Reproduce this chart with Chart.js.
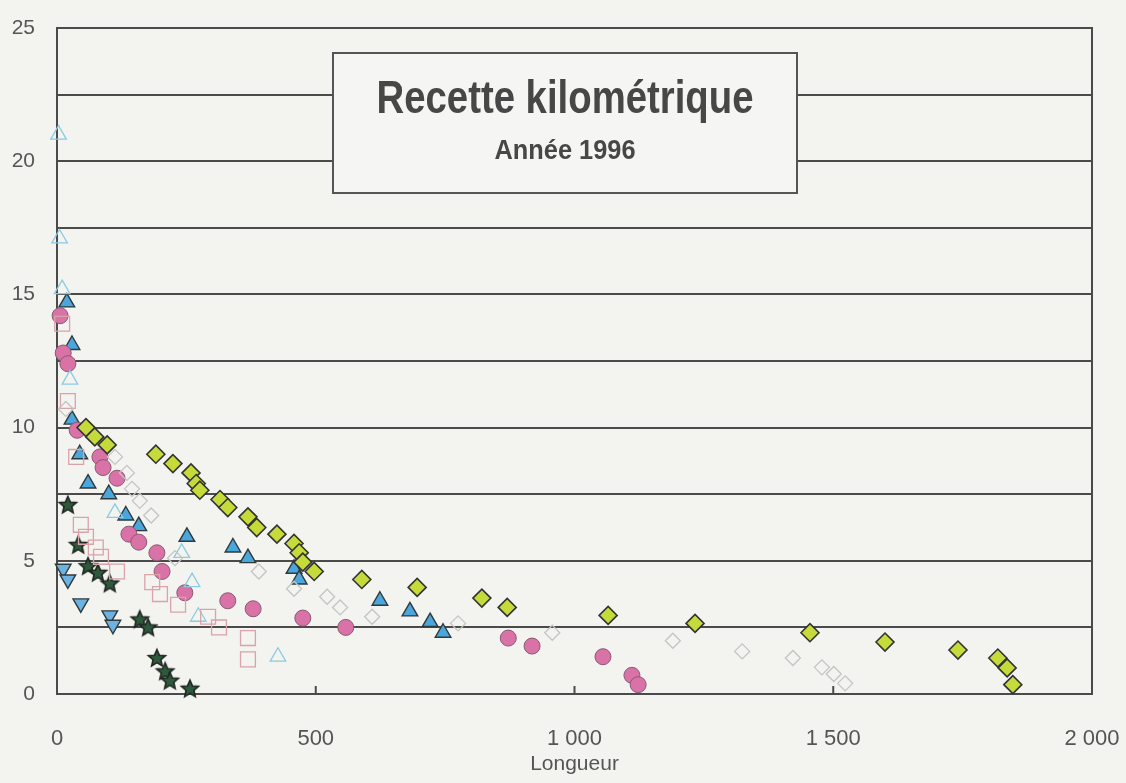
<!DOCTYPE html>
<html><head><meta charset="utf-8">
<script src="https://cdn.jsdelivr.net/npm/chart.js@4/dist/chart.umd.min.js"></script>
<style>html,body{margin:0;padding:0;background:#f3f3f0;overflow:hidden}#wrap{width:1126px;height:783px;position:relative}</style>
</head><body><div id="wrap"><canvas id="c" width="1126" height="783"></canvas></div>
<script>
const titleText = 'Recette kilométrique';
const subtitleText = 'Année 1996';
const xAxisTitle = 'Longueur';
const xMin = 0, xMax = 2000, xStep = 500;
const yMin = 0, yMax = 25, yStep = 2.5, yLabelStep = 5;

const openTriangles = [[3,21.0],[5,17.1],[10,15.2],[25,11.8],[112,6.8],[241,5.3],[261,4.2],[273,2.9],[427,1.4]];
const filledTriangles = [[19,14.7],[29,13.1],[29,10.3],[44,9.0],[60,7.9],[100,7.5],[133,6.7],[158,6.3],[251,5.9],[340,5.5],[369,5.1],[458,4.7],[468,4.3],[624,3.5],[682,3.1],[721,2.7],[746,2.3]];
const pinkCircles = [[6,14.2],[12,12.8],[21,12.4],[39,9.9],[83,8.9],[89,8.5],[116,8.1],[139,6.0],[158,5.7],[193,5.3],[203,4.6],[247,3.8],[330,3.5],[379,3.2],[475,2.85],[558,2.5],[872,2.1],[918,1.8],[1055,1.4],[1111,0.7],[1123,0.35]];
const openSquares = [[10,13.9],[21,11.0],[37,8.9],[46,6.35],[56,5.9],[75,5.5],[85,5.15],[116,4.6],[184,4.2],[199,3.75],[234,3.35],[292,2.9],[313,2.5],[369,2.1],[369,1.3]];
const openDiamonds = [[17,10.7],[112,8.9],[135,8.3],[145,7.7],[160,7.25],[182,6.7],[228,5.1],[390,4.6],[458,3.95],[522,3.65],[547,3.25],[609,2.9],[775,2.65],[957,2.3],[1190,2.0],[1324,1.6],[1422,1.35],[1478,1.0],[1501,0.75],[1523,0.4]];
const greenDiamonds = [[56,10.0],[73,9.65],[97,9.35],[191,9.0],[224,8.65],[259,8.3],[269,7.9],[276,7.65],[315,7.3],[330,7.0],[369,6.65],[386,6.25],[425,6.0],[458,5.65],[468,5.3],[475,4.95],[497,4.6],[589,4.3],[696,4.0],[821,3.6],[870,3.25],[1065,2.95],[1233,2.65],[1455,2.3],[1600,1.95],[1741,1.65],[1818,1.35],[1836,0.98],[1847,0.35]];
const darkStars = [[21,7.1],[41,5.6],[60,4.8],[79,4.55],[102,4.15],[160,2.8],[176,2.5],[193,1.35],[209,0.85],[218,0.5],[257,0.2]];
const downTriangles = [[12,4.7],[21,4.3],[46,3.4],[102,2.95],[108,2.6]];

const toPts = a => a.map(p => ({x: p[0], y: p[1]}));

function makeStar() {
  const c = document.createElement('canvas');
  c.width = 22; c.height = 22;
  const g = c.getContext('2d');
  g.beginPath();
  for (let i = 0; i < 10; i++) {
    const r = i % 2 === 0 ? 9 : 4.1;
    const a = -Math.PI / 2 + i * Math.PI / 5;
    const px = 11 + r * Math.cos(a), py = 11.5 + r * Math.sin(a);
    if (i === 0) g.moveTo(px, py); else g.lineTo(px, py);
  }
  g.closePath();
  g.fillStyle = '#2e5a3c';
  g.fill();
  g.lineWidth = 1.6;
  g.strokeStyle = '#1f2622';
  g.stroke();
  return c;
}
const starImg = makeStar();

const frameColor = '#4a4a4a';
const textColor = '#555555';
const fontFam = '"Liberation Sans", Arial, Helvetica, sans-serif';

const bgPlugin = {
  id: 'bg',
  beforeDraw(chart) {
    const ctx = chart.ctx;
    ctx.save();
    ctx.fillStyle = '#f3f3f0';
    ctx.fillRect(0, 0, chart.width, chart.height);
    ctx.restore();
  },
  beforeDatasetsDraw(chart) {
    const ctx = chart.ctx, a = chart.chartArea, xs = chart.scales.x;
    ctx.save();
    ctx.strokeStyle = frameColor;
    ctx.lineWidth = 2;
    ctx.strokeRect(a.left, a.top, a.right - a.left, a.bottom - a.top);
    xs.ticks.forEach(t => {
      if (t.value <= xMin || t.value >= xMax) return;
      const px = xs.getPixelForValue(t.value);
      ctx.beginPath();
      ctx.moveTo(px, a.bottom);
      ctx.lineTo(px, a.bottom - 8);
      ctx.stroke();
    });
    ctx.restore();
  },
  afterDatasetsDraw(chart) {
    const ctx = chart.ctx;
    const bx = 333, by = 53, bw = 464, bh = 140;
    ctx.save();
    ctx.fillStyle = '#f5f5f3';
    ctx.fillRect(bx, by, bw, bh);
    ctx.strokeStyle = '#555555';
    ctx.lineWidth = 2;
    ctx.strokeRect(bx, by, bw, bh);
    ctx.fillStyle = '#474747';
    ctx.textAlign = 'center';
    ctx.textBaseline = 'alphabetic';
    const cx = 565;
    function drawFit(text, size, targetW, baseY) {
      ctx.font = 'bold ' + size + 'px ' + fontFam;
      const w = ctx.measureText(text).width;
      const s = targetW / w;
      ctx.save();
      ctx.translate(cx, baseY);
      ctx.scale(s, 1);
      ctx.fillText(text, 0, 0);
      ctx.restore();
    }
    drawFit(titleText, 46, 377, 113);
    drawFit(subtitleText, 27, 141, 159);
    ctx.restore();
  }
};

const ds = (label, data, extra) => Object.assign({label, data: toPts(data), showLine: false, clip: false}, extra);

new Chart(document.getElementById('c'), {
  type: 'scatter',
  data: {
    datasets: [
      ds('openDiamonds', openDiamonds, {pointStyle: 'rectRot', pointRadius: 7.5, pointBackgroundColor: 'rgba(0,0,0,0)', pointBorderColor: '#c4c4c4', pointBorderWidth: 1.3}),
      ds('openSquares', openSquares, {pointStyle: 'rect', pointRadius: 10.5, pointBackgroundColor: 'rgba(0,0,0,0)', pointBorderColor: '#d9a3a9', pointBorderWidth: 1.3}),
      ds('openTriangles', openTriangles, {pointStyle: 'triangle', pointRadius: 9, pointBackgroundColor: 'rgba(0,0,0,0)', pointBorderColor: '#8ccbe0', pointBorderWidth: 1.3}),
      ds('greenDiamonds', greenDiamonds, {pointStyle: 'rectRot', pointRadius: 9, pointBackgroundColor: '#c6da3a', pointBorderColor: '#333333', pointBorderWidth: 1.6}),
      ds('pinkCircles', pinkCircles, {pointStyle: 'circle', pointRadius: 8, pointBackgroundColor: '#d972a6', pointBorderColor: '#8a5a70', pointBorderWidth: 1}),
      ds('filledTriangles', filledTriangles, {pointStyle: 'triangle', pointRadius: 9, pointBackgroundColor: '#4aa6dc', pointBorderColor: '#2f3a3a', pointBorderWidth: 1.4}),
      ds('downTriangles', downTriangles, {pointStyle: 'triangle', pointRotation: 180, pointRadius: 9, pointBackgroundColor: '#6cb2e2', pointBorderColor: '#2f3a3a', pointBorderWidth: 1.4}),
      ds('darkStars', darkStars, {pointStyle: starImg, pointRadius: 10})
    ]
  },
  options: {
    responsive: false,
    devicePixelRatio: 1,
    animation: false,
    events: [],
    layout: {padding: {top: 28, right: 34, left: 0, bottom: 0}},
    plugins: {legend: {display: false}, tooltip: {enabled: false}, title: {display: false}},
    scales: {
      x: {
        type: 'linear', min: xMin, max: xMax,
        afterFit(s) { s.height = 89; s.paddingLeft = 0; s.paddingRight = 0; },
        grid: {display: false, drawTicks: false},
        border: {display: true, color: frameColor, width: 2},
        ticks: {
          stepSize: xStep, padding: 32, color: textColor,
          font: {family: fontFam, size: 22},
          callback: v => String(v).replace(/\B(?=(\d{3})+(?!\d))/g, ' ')
        },
        title: {display: true, text: xAxisTitle, color: textColor, font: {family: fontFam, size: 21}, padding: {top: 0, bottom: 6}}
      },
      y: {
        type: 'linear', min: yMin, max: yMax,
        afterFit(s) { s.width = 57; s.paddingTop = 0; s.paddingBottom = 0; },
        grid: {color: frameColor, lineWidth: 2, drawTicks: false},
        border: {display: true, color: frameColor, width: 2},
        ticks: {
          stepSize: yStep, padding: 22, color: textColor,
          font: {family: fontFam, size: 21},
          callback: v => (v % yLabelStep === 0 ? String(v) : '')
        }
      }
    }
  },
  plugins: [bgPlugin]
});
</script></body></html>
